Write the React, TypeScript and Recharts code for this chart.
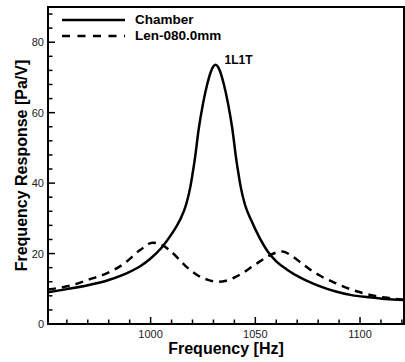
import React from 'react';
import { LineChart, Line, XAxis, YAxis, ReferenceArea, ReferenceDot, Label } from 'recharts';

// Chamber response (solid)
const chamberFreq = [951, 960, 970, 980, 990, 995, 1000, 1005, 1010, 1014, 1017, 1019, 1020, 1021, 1023, 1025, 1027, 1029, 1031, 1033, 1035, 1037, 1039, 1041, 1042, 1043, 1045, 1048, 1052, 1056, 1060, 1065, 1072, 1080, 1088, 1096, 1104, 1112, 1121];
const chamberResp = [9.0, 9.9, 11.0, 12.5, 14.8, 16.4, 18.6, 21.5, 25.5, 29.5, 34, 39, 42.5, 46.3, 55.5, 62.5, 68, 72, 73.6, 72, 68, 62.5, 55.5, 46.3, 42.5, 39, 34, 29.5, 24.5, 20.5, 17.8, 15.5, 13.0, 10.9, 9.3, 8.2, 7.6, 7.1, 6.8];

// Len-080.0mm response (dashed)
const lenFreq = [951, 963, 970, 979, 987, 995, 1001, 1005, 1009, 1013, 1017, 1022, 1027, 1032, 1036, 1040, 1044, 1048, 1052, 1056, 1060, 1063, 1067, 1072, 1077, 1081, 1088, 1094, 1100, 1106, 1112, 1121];
const lenResp = [9.8, 11.1, 12.5, 14.4, 17, 21, 23.1, 22.5, 21, 18.7, 16.3, 14, 12.6, 12.0, 12.3, 13.2, 14.5, 16.1, 17.7, 19.2, 20.3, 20.6, 19.5, 17.3, 15.1, 13.7, 11.7, 10.2, 9.0, 8.1, 7.5, 6.9];

const xTicks = [960, 970, 980, 990, 1000, 1010, 1020, 1030, 1040, 1050, 1060, 1070, 1080, 1090, 1100, 1110, 1120];
const xLabels = [1000, 1050, 1100];
const yTicks = [0, 4, 8, 12, 16, 20, 24, 28, 32, 36, 40, 44, 48, 52, 56, 60, 64, 68, 72, 76, 80, 84, 88];
const yLabels = [0, 20, 40, 60, 80];

const chamberData = chamberFreq.map((f, i) => ({ f, v: chamberResp[i] }));
const lenData = lenFreq.map((f, i) => ({ f, v: lenResp[i] }));

const FONT = '"Liberation Sans", Arial, Helvetica, sans-serif';

function XTick(props: any) {
  const { x, y, payload } = props;
  const major = xLabels.includes(payload.value);
  return (
    <g>
      <line x1={x} x2={x} y1={y} y2={y - (major ? 7 : 4.5)} stroke="#000" strokeWidth={1.5} />
      {major && (
        <text x={x} y={y + 14} textAnchor="middle" fontSize={11} fill="#222" fontFamily={FONT}>
          {payload.value}
        </text>
      )}
    </g>
  );
}

function YTick(props: any) {
  const { x, y, payload } = props;
  const major = yLabels.includes(payload.value);
  return (
    <g>
      <line x1={x} x2={x + (major ? 7 : 4.5)} y1={y} y2={y} stroke="#000" strokeWidth={1.5} />
      {major && (
        <text x={x - 4} y={y + 4} textAnchor="end" fontSize={11} fill="#222" fontFamily={FONT}>
          {payload.value}
        </text>
      )}
    </g>
  );
}

export default function App() {
  return (
    <div style={{ position: 'absolute', left: 0, top: 0, width: 405, height: 362, background: '#fff' }}>
      <LineChart width={405} height={362} margin={{ top: 7, right: 1, bottom: 0, left: 0 }}>
        <XAxis
          dataKey="f"
          type="number"
          domain={[951, 1121]}
          allowDataOverflow
          ticks={xTicks}
          interval={0}
          tickSize={0}
          tickMargin={0}
          tickLine={false}
          tick={<XTick />}
          height={38}
          axisLine={{ stroke: '#000', strokeWidth: 2 }}
        >
          <Label
            content={(p: any) => {
              const vb = p.viewBox;
              return (
                <text x={vb.x + vb.width / 2} y={354} textAnchor="middle" fontSize={16} fontWeight="bold" fontFamily={FONT} fill="#000">
                  Frequency [Hz]
                </text>
              );
            }}
          />
        </XAxis>
        <YAxis
          type="number"
          domain={[0, 90]}
          allowDataOverflow
          ticks={yTicks}
          interval={0}
          tickSize={0}
          tickMargin={0}
          tickLine={false}
          tick={<YTick />}
          width={48}
          axisLine={{ stroke: '#000', strokeWidth: 2 }}
        >
          <Label
            content={(p: any) => {
              const vb = p.viewBox;
              const cy = vb.y + vb.height / 2;
              return (
                <text x={27} y={cy} transform={`rotate(-90 27 ${cy})`} textAnchor="middle" fontSize={16} fontWeight="bold" fontFamily={FONT} fill="#000">
                  Frequency Response [Pa/V]
                </text>
              );
            }}
          />
        </YAxis>
        <ReferenceArea x1={951} x2={1121} y1={0} y2={90} fill="none" stroke="#000" strokeWidth={2} ifOverflow="visible" />
        <Line data={chamberData} dataKey="v" type="monotone" stroke="#000" strokeWidth={2.5} dot={false} isAnimationActive={false} />
        <Line data={lenData} dataKey="v" type="monotone" stroke="#000" strokeWidth={2.5} strokeDasharray="8 6" dot={false} isAnimationActive={false} />
        <ReferenceDot
          x={1031}
          y={73.6}
          r={0}
          fill="none"
          stroke="none"
          label={(p: any) => (
            <text x={p.viewBox.x + 9} y={p.viewBox.y - 1} fontSize={12} fontWeight="bold" fontFamily={FONT} fill="#000">
              1L1T
            </text>
          )}
        />
      </LineChart>
      <div style={{ position: 'absolute', left: 62, top: 12, fontFamily: FONT, fontWeight: 'bold', fontSize: 13.5, lineHeight: '16px' }}>
        {[
          { name: 'Chamber', dash: undefined },
          { name: 'Len-080.0mm', dash: '8 7.5' },
        ].map((it) => (
          <div key={it.name} style={{ display: 'flex', alignItems: 'center', height: 16 }}>
            <svg width={64} height={16} style={{ display: 'block' }}>
              <line x1={0} x2={63} y1={8} y2={8} stroke="#000" strokeWidth={2.5} strokeDasharray={it.dash} />
            </svg>
            <span style={{ marginLeft: 9 }}>{it.name}</span>
          </div>
        ))}
      </div>
    </div>
  );
}
